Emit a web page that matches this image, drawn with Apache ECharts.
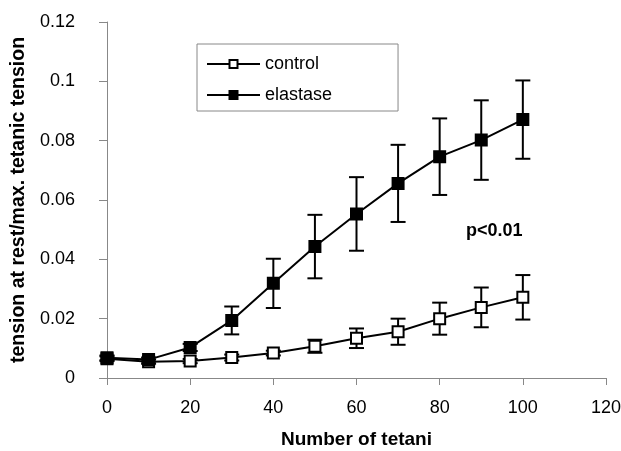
<!DOCTYPE html>
<html>
<head>
<meta charset="utf-8">
<script src="https://cdn.jsdelivr.net/npm/echarts@6/dist/echarts.min.js"></script>
<style>
  html, body { margin: 0; padding: 0; background: #fff; }
  #main { width: 621px; height: 451px; }
</style>
</head>
<body>
<div id="main"></div>
<script>
// 数据
const tetani = [0, 10, 20, 30, 40, 50, 60, 70, 80, 90, 100];
const controlMean = [0.0065, 0.0055, 0.0057, 0.0069, 0.0084, 0.0107, 0.0134, 0.0156, 0.0200, 0.0238, 0.0272];
const controlErr = [0.0008, 0.0007, 0.0007, 0.0010, 0.0008, 0.0022, 0.0033, 0.0044, 0.0054, 0.0067, 0.0075];
const elastaseMean = [0.0068, 0.0062, 0.0103, 0.0194, 0.0319, 0.0443, 0.0553, 0.0656, 0.0746, 0.0802, 0.0871];
const elastaseErr = [0.0008, 0.0007, 0.0012, 0.0047, 0.0083, 0.0107, 0.0124, 0.0130, 0.0129, 0.0134, 0.0132];
const xTicks = [0, 20, 40, 60, 80, 100, 120];
const yTicks = [0, 0.02, 0.04, 0.06, 0.08, 0.1, 0.12];

const font = 'Liberation Sans, Arial, sans-serif';

const errData = (mean, err) => tetani.map((x, i) => [x, mean[i] - err[i], mean[i] + err[i]]);

// 误差线
const errorBars = (name, mean, err) => ({
  name: name + ' err',
  type: 'custom',
  silent: true,
  z: 1,
  data: errData(mean, err),
  renderItem: (params, api) => {
    const x = api.value(0);
    const lo = api.coord([x, api.value(1)]);
    const hi = api.coord([x, api.value(2)]);
    const w = 7.5;
    const st = { stroke: '#000', lineWidth: 2 };
    return {
      type: 'group',
      children: [
        { type: 'line', shape: { x1: lo[0], y1: lo[1], x2: hi[0], y2: hi[1] }, style: st },
        { type: 'line', shape: { x1: lo[0] - w, y1: lo[1], x2: lo[0] + w, y2: lo[1] }, style: st },
        { type: 'line', shape: { x1: hi[0] - w, y1: hi[1], x2: hi[0] + w, y2: hi[1] }, style: st },
      ],
    };
  },
});

const myChart = echarts.init(document.getElementById('main'));
myChart.setOption({
  animation: false,
  grid: { left: 107, right: 15, top: 22, bottom: 73, containLabel: false, outerBoundsMode: 'none' },
  legend: {
    orient: 'vertical',
    left: 197,
    top: 44,
    data: ['control', 'elastase'],
    borderColor: '#888',
    borderWidth: 1,
    borderRadius: 0,
    padding: [11, 66, 7, 9],
    itemWidth: 53,
    itemHeight: 10,
    itemGap: 13,
    textStyle: { fontFamily: font, fontSize: 18, color: '#000' },
  },
  xAxis: {
    type: 'value',
    min: 0,
    max: 120,
    interval: 20,
    name: 'Number of tetani',
    nameLocation: 'middle',
    nameGap: 52,
    nameTextStyle: { fontFamily: font, fontSize: 19, fontWeight: 'bold', color: '#000' },
    axisLine: { lineStyle: { color: '#888', width: 1 } },
    axisTick: { show: true, length: 7, inside: false, lineStyle: { color: '#888' } },
    axisLabel: { fontFamily: font, fontSize: 18, color: '#000', margin: 21,
      formatter: v => (xTicks.includes(v) ? String(v) : '') },
    splitLine: { show: false },
  },
  yAxis: {
    type: 'value',
    min: 0,
    max: 0.12,
    interval: 0.02,
    name: 'tension at rest/max. tetanic tension',
    nameLocation: 'middle',
    nameGap: 78,
    nameTextStyle: { fontFamily: font, fontSize: 19.5, fontWeight: 'bold', color: '#000' },
    axisLine: { show: true, lineStyle: { color: '#888', width: 1 } },
    axisTick: { show: true, length: 8, inside: false, lineStyle: { color: '#888' } },
    axisLabel: { fontFamily: font, fontSize: 18, color: '#000', margin: 32,
      formatter: v => {
        const t = yTicks.find(t => Math.abs(t - v) < 1e-9);
        return t === undefined ? '' : String(+t.toFixed(2));
      } },
    splitLine: { show: false },
  },
  graphic: [
    {
      type: 'text',
      left: 466,
      top: 222,
      style: { text: 'p<0.01', fontFamily: font, fontSize: 18, fontWeight: 'bold', fill: '#000' },
    },
  ],
  series: [
    errorBars('control', controlMean, controlErr),
    errorBars('elastase', elastaseMean, elastaseErr),
    {
      name: 'control',
      type: 'line',
      z: 3,
      data: tetani.map((x, i) => [x, controlMean[i]]),
      symbol: 'rect',
      symbolSize: 11,
      lineStyle: { color: '#000', width: 2 },
      itemStyle: { color: '#fff', borderColor: '#000', borderWidth: 2 },
    },
    {
      name: 'elastase',
      type: 'line',
      z: 3,
      data: tetani.map((x, i) => [x, elastaseMean[i]]),
      symbol: 'rect',
      symbolSize: 11,
      lineStyle: { color: '#000', width: 2 },
      itemStyle: { color: '#000', borderColor: '#000', borderWidth: 2 },
    },
  ],
});
</script>
</body>
</html>
